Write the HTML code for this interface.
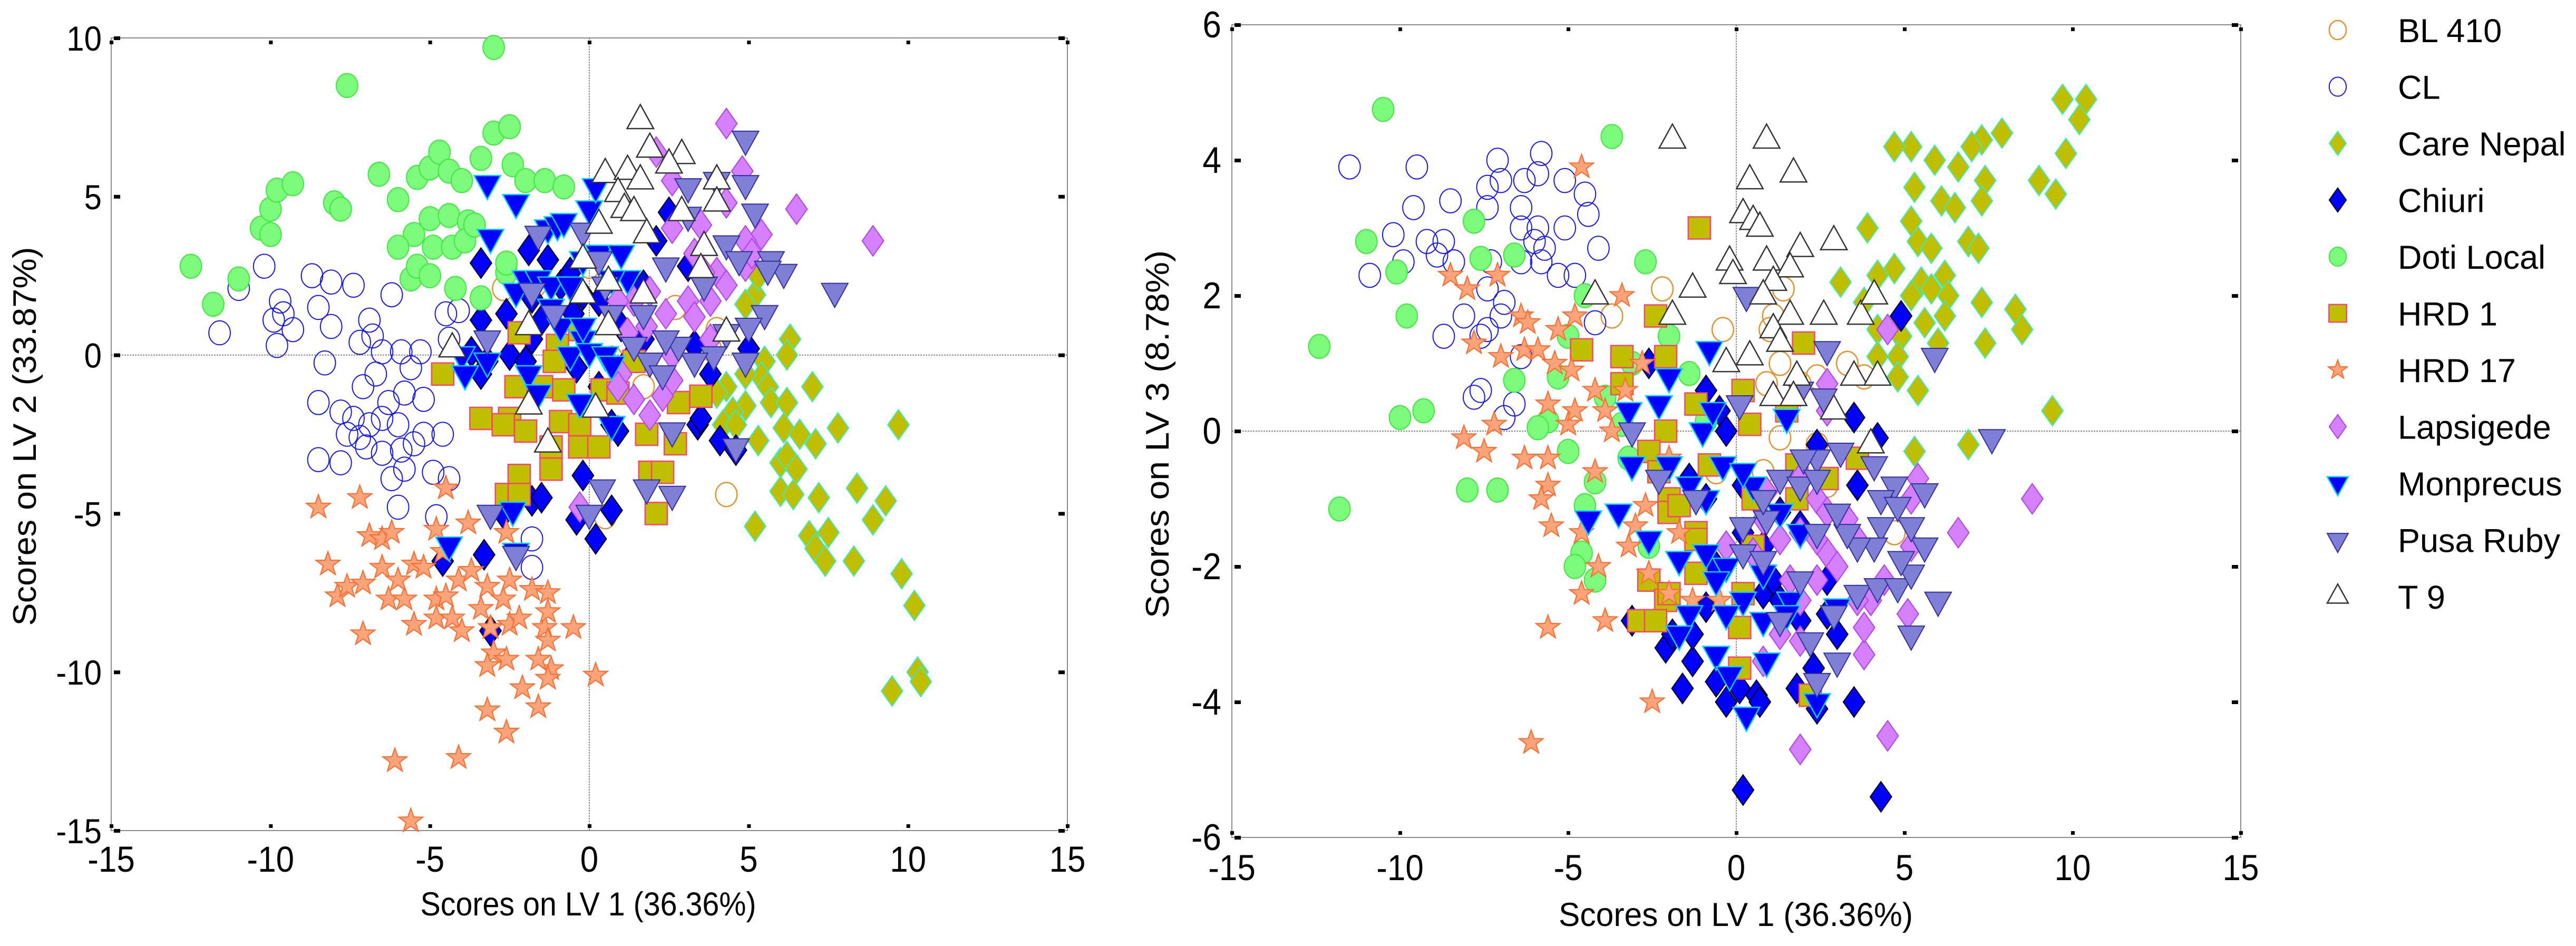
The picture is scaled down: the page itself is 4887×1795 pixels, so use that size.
<!DOCTYPE html>
<html><head><meta charset="utf-8">
<style>
html,body{margin:0;padding:0;background:#fff;}
svg{display:block;}
text{font-family:"Liberation Sans",Arial,sans-serif;fill:#000;}
.nar{font-family:"Liberation Sans Narrow","Liberation Sans",Arial,sans-serif;}
</style></head>
<body>
<svg id="chart" width="4887" height="1795" viewBox="0 0 4887 1795" xmlns="http://www.w3.org/2000/svg">
<rect width="4887" height="1795" fill="#fff"/>
<g id="plotA"></g>
<g id="plotB"></g>
<g id="legend"></g>
</svg>
<script>
// ---- chart data ----
const groupNames = ["BL 410","CL","Care Nepal","Chiuri","Doti Local","HRD 1","HRD 17","Lapsigede","Monprecus","Pusa Ruby","T 9"];
const xTicks = [-15,-10,-5,0,5,10,15];
const yTicksA = [10,5,0,-5,-10,-15];
const yTicksB = [6,4,2,0,-2,-4,-6];

// Panel A: [LV1, LV2]
const bl410A = [[-2.7,2.1],[4.3,-4.4],[4.0,0.8],[3.8,0.2],[2.7,1.5],[1.7,-1.0],[0,2.8],[-1.2,1.7],[0.7,-0.1],[0.5,-5.1]];
const clA = [[-10.2,2.8],[-11.0,2.1],[-11.6,0.7],[-9.8,0.3],[-9.7,1.7],[-9.6,1.3],[-9.3,0.8],[-8.7,2.5],[-8.5,1.5],[-8.1,2.3],[-8.1,0.9],[-7.4,2.2],[-6.9,1.1],[-6.8,0.6],[-6.2,1.9],[-6.5,0.1],[-5.9,0.1],[-5.3,0.1],[-5.6,-0.4],[-8.3,-0.25],[-8.5,-1.5],[-7.8,-1.8],[-7.4,-2.0],[-6.9,-2.2],[-6.5,-2.0],[-6.0,-2.2],[-5.8,-1.2],[-5.2,-1.4],[-6.7,-0.6],[-7.1,-1.0],[-7.6,-2.5],[-7.0,-2.9],[-6.5,-3.1],[-5.9,-3.0],[-8.5,-3.3],[-7.8,-3.4],[-6.2,-3.9],[-5.8,-3.6],[-4.9,-3.7],[-6.0,-4.8],[-4.8,-5.1],[-4.4,-3.9],[-4.1,1.4],[-4.5,1.3],[-4.4,0.5],[-5.2,-2.5],[-4.6,-2.5],[-1.8,-6.7],[-1.8,-5.8],[-9.9,1.1],[-7.2,0.4],[-6.3,-1.5],[-5.5,-2.8],[-7.2,-2.6]];
const careA = [[6.3,0.5],[6.2,0],[5.5,-0.2],[5.4,-0.7],[5.6,-1.0],[4.9,-0.6],[4.3,-1.0],[4.0,-1.2],[7.0,-1.0],[5.7,-1.5],[6.2,-1.5],[4.9,-1.6],[4.5,-1.8],[4.2,-2.2],[4.6,-2.2],[6.1,-2.3],[7.8,-2.3],[9.7,-2.2],[5.3,-2.7],[6.6,-2.5],[7.1,-2.8],[6.0,-3.4],[6.2,-3.2],[6.5,-3.6],[6.0,-4.3],[6.4,-4.4],[7.2,-4.5],[8.4,-4.2],[9.3,-4.6],[5.2,-5.4],[6.9,-5.7],[7.5,-5.6],[7.1,-6.1],[7.4,-6.5],[8.3,-6.5],[8.9,-5.2],[9.8,-6.9],[10.2,-7.9],[10.3,-10.0],[10.4,-10.3],[9.5,-10.6],[5.2,1.9],[5.3,2.5],[4.9,1.6]];
const chiuriA = [[-3.4,2.9],[-2.6,1.3],[-1.9,3.3],[-1.3,3.0],[-0.9,2.2],[-1.8,1.8],[-1.5,1.1],[-2.5,0],[-1.8,0.5],[-1.0,0.1],[-0.5,1.3],[-0.2,1.9],[0.3,1.7],[1.0,0.9],[1.7,0.5],[2.1,3.6],[2.5,4.5],[3.1,2.8],[1.7,2.2],[1.2,-0.2],[-3.2,-0.2],[-3.7,0.1],[-2.0,-0.2],[-0.4,-0.4],[0.3,-1.0],[0.7,-2.2],[0.9,-2.4],[3.4,-2.2],[3.5,-2.0],[4.1,-2.7],[4.6,-3.0],[5.0,0.2],[3.3,0.3],[3.8,-0.6],[-3.4,-0.6],[-0.2,-3.8],[-3.3,-6.3],[-4.6,-6.5],[-3.1,-8.7],[-2.7,-5.0],[-1.8,-4.6],[-1.5,-4.5],[-0.4,-5.2],[0.2,-5.8],[0.7,-4.9],[-0.6,2.6],[-3.4,1.1]];
const dotiA = [[-12.5,2.8],[-11.8,1.6],[-11,2.4],[-10.3,4],[-10,3.8],[-10,4.6],[-9.8,5.2],[-9.3,5.4],[-8,4.8],[-7.8,4.6],[-7.6,8.5],[-6.6,5.7],[-6,4.9],[-5.4,5.6],[-5,5.9],[-4.7,6.4],[-4.4,5.8],[-4,5.5],[-3.4,6.2],[-3,9.7],[-3,7],[-2.5,7.2],[-2.4,6],[-2,5.5],[-1.4,5.5],[-0.8,5.3],[-5,4.3],[-4.4,4.4],[-3.8,4.2],[-5.5,3.8],[-4.9,3.4],[-4.3,3.4],[-3.9,3.6],[-5.6,2.4],[-5.4,2.8],[-4.2,2.1],[-3.4,1.8],[-2.6,2.6],[-2.6,2.9],[-3.6,4.1],[-5,2.5],[-6,3.4]];
const hrd1A = [[-4.6,-0.6],[-2.2,0.7],[-1.0,0.3],[-1.1,-0.2],[-0.3,0.8],[-3.4,-2.0],[-2.5,-2.0],[-2.3,-1.0],[-1.5,-1.0],[-0.8,-1.1],[-2.0,-2.4],[-2.7,-2.2],[-0.9,-2.1],[-0.3,-2.2],[-0.3,-2.9],[0.3,-2.9],[-1.2,-2.9],[-1.2,-3.6],[-2.2,-3.8],[-2.6,-4.4],[-2.2,-4.4],[0.4,-1.1],[1.4,-0.2],[1.8,-2.5],[1.9,-3.7],[2.3,-3.7],[2.1,-5.0],[2.8,-1.5],[3.5,-1.3],[2.7,-2.8],[0.9,-1.2]];
const hrd17A = [[-8.5,-4.8],[-7.2,-4.5],[-8.2,-6.6],[-7.9,-7.6],[-7.6,-7.3],[-7.1,-7.2],[-7.1,-8.8],[-6.9,-5.7],[-6.5,-5.8],[-6.2,-5.6],[-6.5,-6.7],[-6.3,-7.7],[-5.8,-7.7],[-6.0,-7.1],[-5.5,-6.6],[-5.2,-6.7],[-4.8,-7.7],[-4.5,-7.6],[-4.1,-7.1],[-3.7,-6.8],[-3.2,-7.3],[-2.7,-7.7],[-2.5,-7.1],[-5.5,-8.5],[-4.8,-8.3],[-4.3,-8.3],[-4.0,-8.7],[-3.4,-8.0],[-3.1,-8.6],[-2.5,-8.5],[-2.2,-8.3],[-1.8,-7.4],[-1.3,-7.5],[-1.4,-8.6],[-1.3,-9.0],[-1.2,-9.9],[-1.3,-10.2],[-1.6,-9.6],[-0.5,-8.6],[0.2,-10.1],[-3.0,-9.4],[-3.2,-9.8],[-2.6,-9.6],[-2.1,-10.5],[-1.6,-11.1],[-3.2,-11.2],[-2.6,-11.9],[-4.1,-12.7],[-6.1,-12.8],[-5.6,-14.7],[-4.5,-4.2],[-3.8,-5.3],[-4.8,-5.5],[-2.6,-5.6],[-4.6,-6.2],[-1.3,-8.1]];
const lapsA = [[4.3,7.3],[6.5,4.6],[8.9,3.6],[4.8,5.8],[4.3,4.8],[5.4,3.8],[4.9,3.6],[3.5,4.1],[2.6,5.5],[2.1,6.4],[2.6,4.0],[3.3,3.2],[4.0,2.6],[4.3,2.2],[3.8,1.7],[3.1,1.7],[2.4,1.3],[1.9,2.0],[1.4,1.7],[0.9,1.7],[1.2,0.7],[1.8,0.9],[2.6,0],[1.0,-0.6],[0.9,-1.0],[1.4,-1.4],[1.9,-1.9],[2.6,-0.8],[2.3,-1.3],[3.3,1.2],[4.9,2.8],[5.1,3.2],[-0.3,-4.8],[3.8,0.5],[3.6,2.6]];
const monA = [[-3.2,5.4],[-2.3,4.8],[-3.1,3.7],[-1.3,4.0],[-1.0,4.1],[-0.8,4.2],[0.0,4.6],[0.2,5.3],[-2.0,2.4],[-1.6,2.4],[-1.2,2.2],[-0.6,2.2],[-0.2,3.0],[0.3,3.2],[1.0,3.2],[1.2,2.4],[0.7,2.4],[-2.3,2.0],[-0.9,0.9],[-0.2,0.5],[-0.6,0],[0.0,0.1],[0.5,0],[0.7,-0.3],[-4.0,0],[-3.9,-0.6],[-3.2,-0.2],[-1.9,-0.6],[-1.6,-1.2],[-0.3,-1.5],[0.7,-2.2],[-2.4,-4.9],[-4.4,-6.0],[-2.3,-6.2],[-0.2,0.9],[-1.2,1.5]];
const pusaA = [[4.9,6.8],[4.9,5.4],[3.1,5.3],[4.0,5.5],[5.2,4.5],[3.1,4.4],[4.3,3.5],[5.7,3.0],[6.1,2.6],[5.6,2.7],[4.7,3.0],[7.7,2.0],[5.5,1.3],[5.0,0.9],[4.9,-0.2],[4.3,0.7],[3.9,0],[3.3,-0.2],[2.8,0.3],[2.4,0.5],[1.9,-0.2],[2.3,-0.6],[1.4,0.3],[0.7,1.3],[0.3,3.0],[-0.2,3.9],[-1.6,3.8],[-1.1,1.3],[-1.8,2.0],[2.4,2.8],[1.7,1.3],[0.5,2.2],[2.6,-2.4],[4.6,-2.9],[0.4,-4.2],[1.8,-4.2],[2.6,-4.4],[0.0,-5.0],[-3.1,-5.0],[-2.3,-6.3],[-3.2,0.5],[3.6,2.2]];
const t9A = [[1.6,7.4],[1.9,6.5],[2.9,6.3],[2.5,6.0],[0.5,5.7],[1.2,5.8],[1.6,5.5],[0.9,5.1],[0.3,4.1],[1.1,4.6],[1.4,4.5],[1.8,3.8],[2.9,4.5],[4.0,5.5],[4.0,4.8],[3.6,3.4],[3.5,2.7],[-0.2,3.0],[0.6,2.3],[-0.2,1.9],[0.6,0.9],[1.7,1.9],[4.3,0.7],[-1.9,0.9],[-4.3,0.2],[-1.9,-1.6],[0.2,-1.7],[-1.3,-2.8]];

// Panel B: [LV1, LV3]
const bl410B = [[-2.2,2.1],[-0.4,1.5],[1.4,2.1],[1.1,1.7],[1.0,1.5],[1.3,1.0],[0.9,0.7],[1.9,0.7],[2.4,0.8],[3.8,0.8],[3.3,1.0],[0.8,-0.6],[2.4,-0.2],[-0.6,-0.6],[2.7,-0.8],[1.3,-0.1],[4.7,-1.5],[-3.7,1.7]];
const clB = [[-11.5,3.9],[-9.5,3.9],[-9.6,3.3],[-10.2,2.9],[-10.9,2.3],[-9.9,2.5],[-9.2,2.8],[-8.7,2.8],[-8.5,3.4],[-8.4,2.5],[-8.7,1.4],[-8.1,1.7],[-7.8,0.5],[-7.6,0.6],[-7.4,3.6],[-7.1,4.0],[-7.0,3.7],[-7.4,3.3],[-7.3,2.5],[-7.4,2.1],[-7.4,1.5],[-7.0,1.7],[-6.9,0.2],[-6.6,0.4],[-6.4,1.1],[-6.4,3.3],[-6.3,3.7],[-6.4,3.0],[-6.0,2.8],[-5.8,4.1],[-5.9,3.8],[-5.9,3.0],[-5.8,2.5],[-5.7,2.7],[-5.3,2.3],[-5.1,3.7],[-4.5,3.5],[-4.4,3.2],[-5.1,3.0],[-4.1,2.7],[-4.8,2.3],[-6.4,2.5],[-6.9,1.9],[-4.2,1.6],[-7.6,1.4],[-8.9,2.6]];
const careB = [[9.7,4.9],[10.4,4.9],[10.2,4.6],[9.8,4.1],[9.0,3.7],[9.5,3.5],[7.9,4.4],[7.3,4.3],[7.0,4.2],[7.4,3.7],[7.3,3.4],[6.6,3.9],[5.9,4.0],[5.2,4.2],[4.7,4.2],[5.3,3.6],[6.1,3.4],[6.5,3.3],[5.2,3.1],[3.9,3.0],[5.4,2.8],[5.8,2.7],[6.9,2.8],[7.2,2.7],[3.1,2.2],[4.2,2.3],[4.7,2.4],[5.5,2.2],[6.2,2.3],[5.2,2.0],[5.8,2.1],[6.3,2.0],[7.3,1.9],[8.3,1.8],[8.5,1.5],[6.2,1.7],[5.6,1.6],[4.9,1.4],[6.0,1.3],[7.4,1.3],[4.2,1.5],[4.8,1.1],[4.2,1.1],[4.8,0.8],[5.4,0.6],[9.4,0.3],[6.9,-0.2],[5.3,-0.3],[3.8,1.9]];
const chiuriB = [[4.9,1.7],[3.5,0.2],[4.2,-0.1],[3.6,-0.8],[-0.3,0],[-0.5,0.3],[-2.6,1.0],[-0.9,0.6],[-3.1,-2.8],[-2.1,-3.2],[-1.9,-3.0],[-1.3,-3.4],[-1.6,-3.8],[-0.6,-3.7],[-0.3,-4.0],[0.1,-3.8],[0.6,-3.9],[0.7,-4.0],[1.8,-3.8],[2.4,-4.1],[3.5,-4.0],[2.3,-3.5],[3.0,-3.0],[2.7,-2.7],[0.8,-2.4],[1.3,-2.5],[1.9,-2.8],[-0.9,-2.6],[-0.6,-2.0],[-0.3,-1.7],[0.2,-1.5],[0.8,-1.7],[1.3,-1.2],[1.9,-1.4],[2.4,-0.2],[0.2,-0.8],[-0.9,-1.0],[-1.4,-0.7],[0.2,-5.3],[4.3,-5.4],[1.1,-2.2],[2.7,-2.2],[-1.3,-3.0]];
const dotiB = [[-12.4,1.25],[-11.8,-1.15],[-11,2.8],[-10.1,2.35],[-10,0.2],[-9.8,1.7],[-9.3,0.3],[-8,-0.87],[-7.1,-0.87],[-7.8,3.1],[-7.6,2.55],[-6.6,2.6],[-6.6,0.75],[-10.5,4.75],[-3.7,4.35],[-2.7,2.5],[-4.5,2],[-5,1.4],[-5.3,0.8],[-5.6,0.15],[-5.9,0.05],[-5,-0.3],[-4.2,-0.75],[-4.5,-1.1],[-4.6,-1.8],[-4.8,-2],[-4.2,-2.2],[-3.1,1],[-2,1.4],[-1.4,0.85],[-0.9,0.15],[-3.2,-0.4],[-2.6,-1.7],[-3.9,0.5],[-3.4,0.1]];
const hrd1B = [[-1.1,3.0],[-2.4,1.7],[-4.6,1.2],[-3.4,1.1],[-2.1,1.1],[-3.4,0.7],[2.0,1.3],[0.2,0.6],[-1.2,0.4],[0.4,0.1],[1.5,0.3],[-2.1,0],[-2.6,-0.3],[-2.3,-0.6],[-0.8,-0.5],[-2.0,-1.0],[-2.0,-1.2],[-1.7,-1.1],[-1.2,-1.5],[-1.2,-1.6],[0.5,-1.0],[1.8,-0.5],[1.8,-1.0],[2.7,-0.7],[3.6,-0.4],[-2.6,-2.2],[-2.1,-2.5],[-2.0,-2.4],[-1.2,-2.1],[-2.9,-2.8],[-2.4,-2.8],[0.2,-2.4],[0.1,-2.9],[0.1,-3.5],[2.2,-3.9],[0.5,-1.7]];
const hrd17B = [[-4.6,3.9],[-8.5,2.3],[-8.0,2.1],[-7.1,2.3],[-6.4,1.7],[-6.2,1.6],[-7.8,1.3],[-7.0,1.1],[-6.3,1.2],[-5.9,1.2],[-5.3,1.5],[-3.4,2.0],[-4.8,1.7],[-5.4,1.0],[-4.9,0.9],[-5.6,0.4],[-7.2,0.1],[-8.1,-0.1],[-7.5,-0.3],[-6.3,-0.4],[-5.6,-0.4],[-5.0,0.1],[-4.8,0.3],[-4.2,0.6],[-3.9,0.3],[-3.7,0],[-4.2,-0.6],[-5.6,-0.8],[-5.8,-1.0],[-5.5,-1.4],[-4.6,-1.5],[-4.1,-2.0],[-4.6,-2.4],[-5.6,-2.9],[-3.9,-2.8],[-3.2,-1.7],[-3.0,-1.4],[-2.7,-1.1],[-2.6,-2.1],[-2.0,-2.4],[-1.3,-2.5],[-2.5,-4.0],[-6.1,-4.6],[-2.8,1.0],[-3.3,0.6],[-2.0,-0.4],[-1.7,-1.5],[-0.5,-2.5]];
const lapsB = [[4.5,1.5],[8.8,-1.0],[6.6,-1.5],[1.9,-4.7],[4.5,-4.5],[5.1,-2.7],[3.8,-3.3],[3.8,-2.9],[4.0,-2.5],[2.7,-1.8],[2.4,-1.6],[1.9,-1.5],[1.3,-1.6],[0.8,-1.3],[0.9,-0.9],[1.9,-0.7],[2.4,-1.0],[2.7,-1.2],[3.3,-1.3],[3.6,-1.6],[3.0,-2.0],[2.4,-2.2],[1.9,-2.5],[1.3,-3.0],[0.8,-3.4],[1.9,-3.1],[2.7,0.7],[2.7,0.3],[5.4,-0.7],[5.2,-1.0],[5.2,-1.7],[4.4,-2.2],[0.5,-1.8],[-0.3,-1.7],[1.6,-2.2],[3.6,-2.5]];
const monB = [[-2.0,0.8],[-0.8,1.2],[-3.2,0.3],[-2.3,0.4],[-1.0,0],[-0.7,0.3],[1.5,0.2],[-4.4,-1.3],[-3.5,-1.2],[-3.1,-0.5],[-2.0,-0.5],[-1.4,-0.8],[-0.9,-1.0],[-0.4,-0.5],[0.5,-0.8],[0.2,-0.6],[1.3,-1.2],[1.9,-1.5],[-1.7,-1.9],[-0.9,-1.8],[-0.3,-2.0],[-0.6,-2.2],[0.2,-2.5],[0.8,-2.1],[1.6,-2.5],[-1.4,-2.7],[-0.3,-2.7],[0.8,-2.8],[1.5,-2.7],[3.0,-2.6],[-1.7,-3.0],[-0.6,-3.3],[-0.2,-3.6],[0.9,-3.4],[2.4,-4.0],[0.3,-4.2],[-2.6,-1.6]];
const pusaB = [[0.3,2.0],[2.7,1.2],[5.9,1.1],[7.6,-0.1],[2.6,0.5],[1.9,0.6],[-3.1,0],[-2.3,-0.7],[-1.2,-1.0],[0.2,-1.4],[0.2,-1.8],[0.8,-1.9],[1.9,-2.2],[1.3,-2.8],[2.2,-3.1],[2.9,-2.7],[3.0,-3.4],[2.4,-3.7],[3.6,-2.4],[4.2,-2.3],[4.8,-2.3],[5.2,-2.1],[6.0,-2.5],[5.2,-3.0],[5.6,-1.7],[5.2,-1.4],[5.6,-0.9],[4.7,-0.8],[4.3,-1.0],[4.8,-1.1],[4.3,-1.4],[4.1,-1.7],[3.6,-1.7],[3.3,-1.5],[3.0,-1.2],[2.4,-0.4],[2.0,-0.4],[1.3,-0.7],[1.9,-0.8],[0.9,-1.3],[2.4,-1.5],[4.9,-1.9],[0.8,-1.0],[0.1,0.4],[2.4,-0.7],[4.1,-0.5],[3.1,-0.3]];
const t9B = [[-1.9,4.3],[0.9,4.3],[1.7,3.8],[0.4,3.7],[0.2,3.2],[0.5,3.1],[0.7,3.0],[2.9,2.8],[1.9,2.7],[-0.2,2.5],[-0.1,2.3],[0.9,2.5],[1.6,2.4],[1.1,2.2],[-1.3,2.1],[-4.2,2.0],[-1.9,1.7],[0.8,2.0],[1.6,1.7],[2.6,1.7],[3.7,1.7],[4.1,2.0],[1.1,1.5],[1.3,1.3],[0.4,1.1],[-0.3,1.0],[1.8,0.8],[3.5,0.8],[4.2,0.8],[1.1,0.5],[1.7,0.5],[2.9,0.3],[4.0,-0.2]];

const seriesA = [bl410A,clA,careA,chiuriA,dotiA,hrd1A,hrd17A,lapsA,monA,pusaA,t9A];
const seriesB = [bl410B,clB,careB,chiuriB,dotiB,hrd1B,hrd17B,lapsB,monB,pusaB,t9B];

// ---- styles ----
const styles = [
 {shape:"circle", fill:"none", stroke:"#e8902a", sw:2.5},
 {shape:"circle", fill:"none", stroke:"#1414ff", sw:2},
 {shape:"diamond", fill:"#bfbf00", stroke:"#30f0d0", sw:2},
 {shape:"diamond", fill:"#0000ff", stroke:"#000000", sw:2},
 {shape:"circle", fill:"#7cfb7c", stroke:"#3de83d", sw:2},
 {shape:"square", fill:"#bfbf00", stroke:"#ff4070", sw:2.5},
 {shape:"star", fill:"#ffa37a", stroke:"#ff6a2a", sw:2},
 {shape:"diamond", fill:"#d580ff", stroke:"#b040f0", sw:2},
 {shape:"tridown", fill:"#0000ff", stroke:"#00d8ff", sw:2.5},
 {shape:"tridown", fill:"#7f7fd6", stroke:"#3030a0", sw:2},
 {shape:"triup", fill:"#ffffff", stroke:"#333333", sw:2.5}
];
const NS = "http://www.w3.org/2000/svg";
function el(tag, attrs, parent){
  const e = document.createElementNS(NS, tag);
  for (const k in attrs) e.setAttribute(k, attrs[k]);
  if (parent) parent.appendChild(e);
  return e;
}
function marker(parent, st, cx, cy, s){
  let e;
  if (st.shape==="circle") e = el("ellipse",{cx:cx,cy:cy,rx:17*s,ry:19*s},parent);
  else if (st.shape==="square") e = el("rect",{x:cx-17.5*s,y:cy-17.5*s,width:35*s,height:35*s},parent);
  else {
    let pts;
    if (st.shape==="diamond") pts=[[0,-24],[17,0],[0,24],[-17,0]];
    else if (st.shape==="tridown") pts=[[-21,-13],[21,-13],[0,25]];
    else if (st.shape==="triup") pts=[[0,-25],[21,13],[-21,13]];
    else { pts=[]; for(let i=0;i<10;i++){const r=i%2?8:20;const a=-Math.PI/2+i*Math.PI/5;pts.push([r*Math.cos(a),r*Math.sin(a)]);} }
    e = el("polygon",{points:pts.map(p=>(cx+p[0]*s)+","+(cy+p[1]*s)).join(" ")},parent);
  }
  e.setAttribute("fill", st.fill);
  e.setAttribute("stroke", st.stroke);
  e.setAttribute("stroke-width", st.sw);
  return e;
}

function panel(root, box, yMin, yMax, yTicks, series, xTitle, yTitle, opts){
  const sx = v => box.x0 + (v+15)/30*(box.x1-box.x0);
  const sy = v => box.y1 - (v-yMin)/(yMax-yMin)*(box.y1-box.y0);
  const frame = el("rect",{x:box.x0,y:box.y0,width:box.x1-box.x0,height:box.y1-box.y0,fill:"none",stroke:"#8a8a8a","stroke-width":2},root);
  
  
  const zx = el("line",{x1:sx(0),x2:sx(0),y1:box.y0,y2:box.y1,stroke:"#666","stroke-width":1.5,"stroke-dasharray":"3,2"},root);
  
  
  const zy = el("line",{x1:box.x0,x2:box.x1,y1:sy(0),y2:sy(0),stroke:"#666","stroke-width":1.5,"stroke-dasharray":"3,2"},root);
  
  
  xTicks.forEach(v=>{
    const x = sx(v);
    el("rect",{x:x-3,y:box.y1-12,width:7,height:7,fill:"#000"},root);
    el("rect",{x:x-3,y:box.y0+5,width:7,height:7,fill:"#000"},root);
    const t = el("text",{x:0,y:0,"text-anchor":"middle","font-size":62,class:"nar",transform:"translate("+x+","+opts.xLabelY+") scale(1,1.1)"},root);
    t.textContent = v;
    
    
  });
  yTicks.forEach(v=>{
    const y = sy(v);
    el("rect",{x:box.x0+5,y:y-3,width:12,height:7,fill:"#000"},root);
    el("rect",{x:box.x1-17,y:y-3,width:12,height:7,fill:"#000"},root);
    const t = el("text",{x:0,y:0,"text-anchor":"end","font-size":opts.yFont,class:"nar",transform:"translate("+opts.yLabelX+","+(y+24)+") scale(1,1.1)"},root);
    t.textContent = v;
    
    
  });
  const xt = el("text",{x:opts.xTitleX,y:opts.xTitleY,"text-anchor":"middle","font-size":63,textLength:opts.xTitleW,lengthAdjust:"spacingAndGlyphs"},root);
  xt.textContent = xTitle;
  
  
  const yt = el("text",{x:0,y:0,"text-anchor":"middle","font-size":62,textLength:opts.yTitleW,lengthAdjust:"spacingAndGlyphs",transform:"translate("+opts.yTitleX+","+opts.yTitleY+") rotate(-90)"},root);
  yt.textContent = yTitle;
  
  
  const pts = el("g",{},root);
  series.forEach((arr,gi)=>{
    const g = el("g",{},pts);
    
    
    arr.forEach(p=>{
      const m = marker(g, styles[gi], sx(p[0]), sy(p[1]), 1.2);
      
      
    });
  });
}

panel(document.getElementById("plotA"), {x0:211,x1:2025,y0:72,y1:1576}, -15, 10, yTicksA, seriesA,
  "Scores on LV 1 (36.36%)", "Scores on LV 2 (33.87%)",
  {xLabelY:1654, yLabelX:193, yFont:60, xTitleX:1116, xTitleY:1737, xTitleW:637, yTitleX:68, yTitleY:828, yTitleW:719});
panel(document.getElementById("plotB"), {x0:2337,x1:4251,y0:47,y1:1589}, -6, 6, yTicksB, seriesB,
  "Scores on LV 1 (36.36%)", "Scores on LV 3 (8.78%)",
  {xLabelY:1670, yLabelX:2317, yFont:64, xTitleX:3293, xTitleY:1757, xTitleW:672, yTitleX:2217, yTitleY:824, yTitleW:698});

const lg = document.getElementById("legend");
groupNames.forEach((n,i)=>{
  const cy = 57 + i*107.5;
  const g = el("g",{},lg);
  
  
  const m = marker(g, styles[i], 4435, cy, 0.95);
  
  
  const t = el("text",{x:4549,y:cy+23,"font-size":63},g);
  t.textContent = n;
  
  
});
</script>
</body></html>
